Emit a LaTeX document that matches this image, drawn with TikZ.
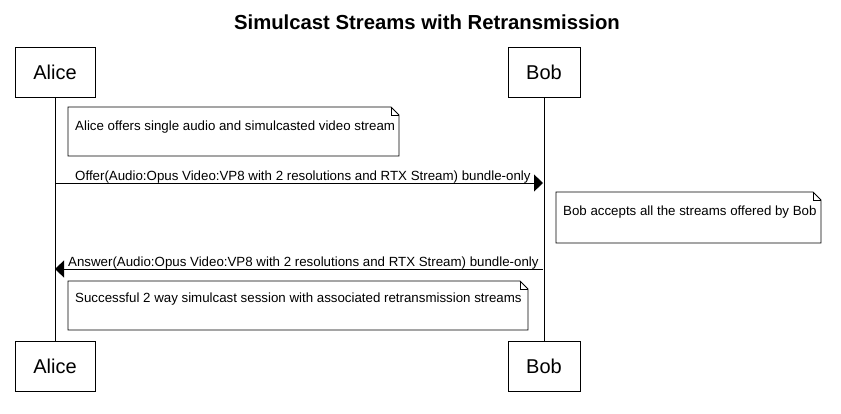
\documentclass[tikz,border=0pt]{standalone}
\usepackage{fontspec}
\setmainfont{Liberation Sans}
\usetikzlibrary{arrows.meta}
\begin{document}
\begin{tikzpicture}[x=1pt,y=-1pt,
  actor/.style={draw=black,line width=1pt,minimum width=80pt,minimum height=50pt,inner sep=0pt,font=\fontsize{20}{22}\selectfont},
  txt/.style={inner sep=0pt,anchor=base west,font=\fontsize{13.3}{15}\selectfont},
  notebox/.style={draw=black,line width=0.8pt,fill=white},
  life/.style={draw=black,line width=0.8pt},
  msg/.style={draw=black,line width=0.9pt,-{Triangle[length=9pt,width=17pt]}}]
\useasboundingbox (0,0) rectangle (841,413);
\fill[white] (0,0) rectangle (841,413);
% title
\node[inner sep=0pt,anchor=base,font=\fontsize{20.3}{22}\selectfont\bfseries] (title) at (427,29) {Simulcast Streams with Retransmission};
% actors
\node[actor,minimum width=80pt] (alice) at (55,72) {Alice};
\node[actor,minimum width=72pt] (bob) at (544,72) {Bob};
\node[actor,minimum width=80pt] (alice2) at (55,366) {Alice};
\node[actor,minimum width=72pt] (bob2) at (544,366) {Bob};
% lifelines
\draw[life] (alice.south) -- (alice2.north);
\draw[life] (bob.south) -- (bob2.north);
% note 1
\draw[notebox] (68,107) -- (391,107) -- (399,115) -- (399,156) -- (68,156) -- cycle;
\draw[line width=0.8pt] (391,107) -- (391,115) -- (399,115);
\node[txt] (n1) at (75,130) {Alice offers single audio and simulcasted video stream};
% offer
\coordinate (o1) at (55,183);
\coordinate (o2) at (543,183);
\draw[msg] (o1) -- (o2);
\node[txt] (offer) at (75,180) {Offer(Audio:Opus Video:VP8 with 2 resolutions and RTX Stream) bundle-only};
% note 2
\draw[notebox] (556,192) -- (813,192) -- (821,200) -- (821,243) -- (556,243) -- cycle;
\draw[line width=0.8pt] (813,192) -- (813,200) -- (821,200);
\node[txt] (n2) at (563,215) {Bob accepts all the streams offered by Bob};
% answer
\coordinate (a1) at (543,269);
\coordinate (a2) at (55,269);
\draw[msg] (a1) -- (a2);
\node[txt] (answer) at (68,266) {Answer(Audio:Opus Video:VP8 with 2 resolutions and RTX Stream) bundle-only};
% note 3
\draw[notebox] (68,281) -- (520,281) -- (528,289) -- (528,330) -- (68,330) -- cycle;
\draw[line width=0.8pt] (520,281) -- (520,289) -- (528,289);
\node[txt] (n3) at (75,302) {Successful 2 way simulcast session with associated retransmission streams};
\end{tikzpicture}
\end{document}
